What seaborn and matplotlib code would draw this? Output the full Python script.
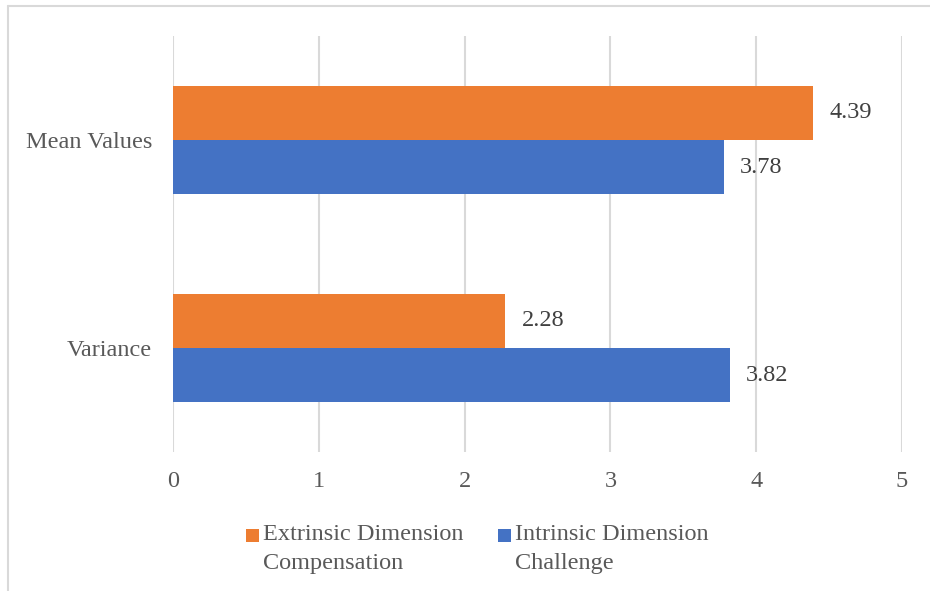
import matplotlib
matplotlib.use("Agg")
import matplotlib.pyplot as plt
from matplotlib.lines import Line2D
from matplotlib.patches import Patch, Rectangle
from matplotlib.legend_handler import HandlerPatch
import seaborn as sns
import pandas as pd

categories = ["Mean Values", "Variance"]
series_names = ["Extrinsic Dimension\nCompensation", "Intrinsic Dimension\nChallenge"]
extrinsic = [4.39, 2.28]
intrinsic = [3.78, 3.82]
x_ticks = [0, 1, 2, 3, 4, 5]
colors = ["#ED7D31", "#4472C4"]

df = pd.DataFrame({
    "category": categories * 2,
    "series": [series_names[0]] * 2 + [series_names[1]] * 2,
    "value": extrinsic + intrinsic,
})

sns.set_theme(style="white")
plt.rcParams["font.family"] = ["Liberation Serif", "DejaVu Serif"]

FS = 17.5

fig = plt.figure(figsize=(9.3, 5.91), dpi=100)
ax = fig.add_axes([173 / 930, 1 - 452 / 591, (902 - 173) / 930, (452 - 36) / 591])

sns.barplot(data=df, x="value", y="category", hue="series", order=categories,
            hue_order=series_names, palette=colors, orient="h", width=0.52,
            gap=0, saturation=1, legend=False, ax=ax, edgecolor="none")

for cont in ax.containers:
    ax.bar_label(cont, fmt="%.2f", padding=11.5, fontsize=FS, color="#404040")

ax.set_xlim(0, 5)
ax.set_ylim(1.5, -0.5)
ax.set_xticks(x_ticks)
ax.set_xticklabels([str(t) for t in x_ticks])
ax.xaxis.grid(True, color="#d9d9d9", linewidth=1.5)
ax.yaxis.grid(False)
ax.set_axisbelow(True)
for s in ax.spines.values():
    s.set_visible(False)
ax.tick_params(axis="both", length=0, labelsize=FS, labelcolor="#595959")
ax.tick_params(axis="x", pad=14)
ax.tick_params(axis="y", pad=15)
ax.set_xlabel("")
ax.set_ylabel("")


def top_square(legend, orig_handle, xdescent, ydescent, width, height, fontsize):
    # square key aligned with the first line of a two-line label
    s = 9.5
    return Rectangle((-xdescent + width - s, -ydescent + height - s + 3.5), s, s)


handles = [Patch(facecolor=c, edgecolor="none") for c in colors]
leg = fig.legend(handles, series_names, loc="center", bbox_to_anchor=(0.513, 1 - 549 / 591),
                 ncol=2, frameon=False, fontsize=FS, labelcolor="#595959",
                 handlelength=0.55, handleheight=1.6, handletextpad=0.15,
                 columnspacing=1.42, labelspacing=0.2,
                 handler_map={Patch: HandlerPatch(patch_func=top_square)})
for t in leg.get_texts():
    t.set_linespacing(1.5)

# light frame around the chart area
fig.add_artist(Line2D([8 / 930, 8 / 930], [0, 1 - 6 / 591], transform=fig.transFigure,
                      color="#d9d9d9", linewidth=1.5))
fig.add_artist(Line2D([8 / 930, 1], [1 - 6 / 591, 1 - 6 / 591], transform=fig.transFigure,
                      color="#d9d9d9", linewidth=1.5))

fig.savefig("out.png", dpi=100, facecolor="white")
